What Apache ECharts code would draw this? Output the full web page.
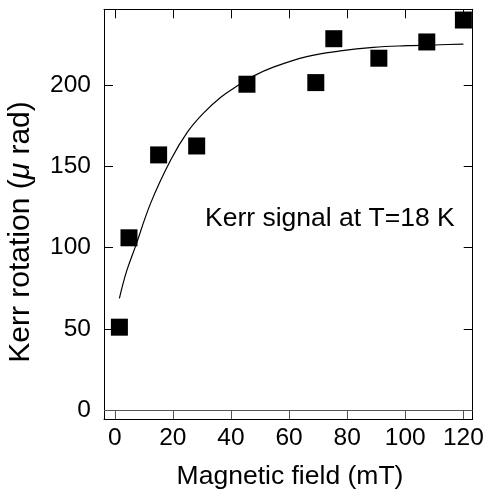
<!DOCTYPE html>
<html>
<head>
<meta charset="utf-8">
<script src="https://cdn.jsdelivr.net/npm/echarts@6/dist/echarts.min.js"></script>
<style>
  html, body { margin: 0; padding: 0; background: #fff; }
  #chart { width: 489px; height: 497px; }
</style>
</head>
<body>
<div id="chart"></div>
<script>
// measured points (field in mT, Kerr rotation in micro rad)
var fieldX = [1.6, 4.9, 15.1, 28.2, 45.5, 69.2, 75.4, 90.9, 107.4, 120];
var kerrY = [51, 106, 157, 162.5, 200.5, 201.5, 228.5, 216.5, 226.5, 240];

// fitted curve
var fitX = [1.6, 4, 7.2, 12.4, 19.3, 25, 30.7, 36.5, 42.2, 47.7, 54.6, 66.1, 77.6, 89, 100.5, 112, 120];
var fitY = [68.7, 85, 101, 127.5, 154, 171, 183, 192.5, 199.5, 205.5, 211, 217.5, 221, 223.2, 224.2, 224.8, 225.2];

var xTicks = [0, 20, 40, 60, 80, 100, 120];
var yTicks = [0, 50, 100, 150, 200];

var FONT = 'Liberation Sans, Arial, sans-serif';

var chart = echarts.init(document.getElementById('chart'));

var scatterData = fieldX.map(function (x, i) { return [x, kerrY[i]]; });
var fitData = fitX.map(function (x, i) { return [x, fitY[i]]; });

var option = {
    animation: false,
    backgroundColor: '#fff',
    grid: {
        left: 104,
        right: 16.3,
        top: 9.3,
        bottom: 78
    },
    xAxis: [
        {
            type: 'value',
            position: 'bottom',
            min: -3.7,
            max: 123.2,
            axisLine: { onZero: false, lineStyle: { color: '#000', width: 1 } },
            axisTick: {
                inside: true,
                length: 9,
                customValues: xTicks,
                lineStyle: { color: '#555' }
            },
            axisLabel: {
                customValues: xTicks,
                margin: 7,
                fontSize: 24.5,
                fontFamily: FONT,
                color: '#000'
            },
            splitLine: { show: false }
        },
        {
            type: 'value',
            position: 'top',
            min: -3.7,
            max: 123.2,
            axisLine: { onZero: false, lineStyle: { color: '#000', width: 1 } },
            axisTick: {
                inside: true,
                length: 9,
                customValues: xTicks,
                lineStyle: { color: '#000' }
            },
            axisLabel: { show: false },
            splitLine: { show: false }
        }
    ],
    yAxis: [
        {
            type: 'value',
            position: 'left',
            min: -5.5,
            max: 246.6,
            axisLine: { show: true, onZero: false, lineStyle: { color: '#000', width: 1 } },
            axisTick: {
                show: true,
                inside: true,
                length: 9,
                customValues: yTicks,
                lineStyle: { color: '#000' }
            },
            axisLabel: {
                customValues: yTicks,
                margin: 13,
                fontSize: 24.5,
                fontFamily: FONT,
                color: '#000'
            },
            splitLine: { show: false }
        },
        {
            type: 'value',
            position: 'right',
            min: -5.5,
            max: 246.6,
            axisLine: { show: true, onZero: false, lineStyle: { color: '#000', width: 1 } },
            axisTick: {
                show: true,
                inside: true,
                length: 9,
                customValues: yTicks,
                lineStyle: { color: '#000' }
            },
            axisLabel: { show: false },
            splitLine: { show: false }
        }
    ],
    series: [
        {
            name: 'fit',
            type: 'line',
            data: fitData,
            smooth: 0.4,
            showSymbol: false,
            symbol: 'none',
            lineStyle: { color: '#000', width: 1.2 },
            z: 2,
            markLine: {
                silent: true,
                symbol: 'none',
                label: { show: false },
                lineStyle: { color: '#555', width: 1, type: 'solid' },
                data: [{ yAxis: 0 }]
            }
        },
        {
            name: 'data',
            type: 'scatter',
            data: scatterData,
            symbol: 'rect',
            symbolSize: 17,
            itemStyle: { color: '#000', opacity: 1 },
            z: 3
        }
    ],
    graphic: [
        {
            type: 'text',
            x: 205,
            y: 219,
            style: {
                text: 'Kerr signal at T=18 K',
                fontSize: 26.5,
                fontFamily: FONT,
                fill: '#000',
                align: 'left',
                verticalAlign: 'middle'
            }
        },
        {
            type: 'text',
            x: 290,
            y: 477,
            style: {
                text: 'Magnetic field (mT)',
                fontSize: 26.5,
                fontFamily: FONT,
                fill: '#000',
                align: 'center',
                verticalAlign: 'middle'
            }
        },
        {
            type: 'text',
            x: 21,
            y: 232,
            rotation: Math.PI / 2,
            style: {
                text: 'Kerr rotation ({mu|μ} rad)',
                fontSize: 30,
                fontFamily: FONT,
                fill: '#000',
                align: 'center',
                verticalAlign: 'middle',
                rich: {
                    mu: {
                        fontSize: 30,
                        fontFamily: FONT,
                        fontStyle: 'italic',
                        fill: '#000'
                    }
                }
            }
        }
    ]
};

chart.setOption(option);
</script>
</body>
</html>
